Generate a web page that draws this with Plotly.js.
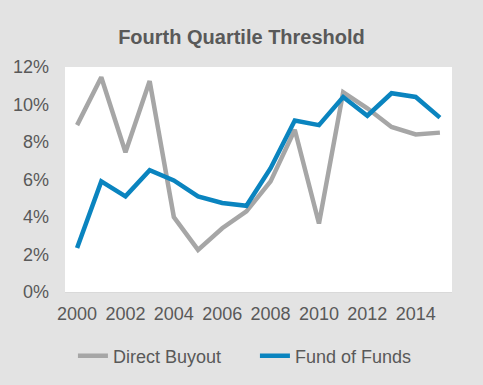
<!DOCTYPE html>
<html>
<head>
<meta charset="utf-8">
<script src="https://cdn.plot.ly/plotly-3.0.1.min.js"></script>
<style>html,body{margin:0;padding:0;background:#E3E3E3;}#chart{width:483px;height:385px;}</style>
</head>
<body>
<div id="chart"></div>
<script>
const years = [2000,2001,2002,2003,2004,2005,2006,2007,2008,2009,2010,2011,2012,2013,2014,2015];
const directBuyout = [8.9,11.45,7.45,11.25,4.0,2.25,3.4,4.3,5.9,8.65,3.65,10.65,9.8,8.8,8.4,8.5];
const fundOfFunds = [2.35,5.9,5.1,6.5,5.95,5.1,4.75,4.6,6.6,9.15,8.9,10.4,9.4,10.6,10.4,9.3];
const xTicks = [2000,2002,2004,2006,2008,2010,2012,2014];
const yTicks = [0,2,4,6,8,10,12];

const font = "'Liberation Sans', Arial, sans-serif";
const data = [
  {x: years, y: directBuyout, name: 'Direct Buyout', type: 'scatter', mode: 'lines',
   line: {color: '#A6A6A6', width: 4.5}},
  {x: years, y: fundOfFunds, name: 'Fund of Funds', type: 'scatter', mode: 'lines',
   line: {color: '#0A84BF', width: 4.5}}
];
const layout = {
  width: 483, height: 385,
  paper_bgcolor: '#E3E3E3', plot_bgcolor: '#FFFFFF',
  margin: {l: 65, r: 31, t: 67, b: 93, autoexpand: false},
  font: {family: font, color: '#595959', size: 18},
  title: {text: '<b>Fourth Quartile Threshold</b>', x: 0.5, xanchor: 'center', y: 0.905, yanchor: 'middle',
          font: {family: font, size: 20, color: '#595959'}},
  xaxis: {range: [1999.5, 2015.5], tickvals: xTicks, ticktext: xTicks.map(String),
          showgrid: false, zeroline: false, showline: true, linecolor: '#D9D9D9', linewidth: 1,
          ticks: '', ticklabelstandoff: 5,
          tickfont: {size: 18, color: '#595959'}},
  yaxis: {range: [0, 12], tickvals: yTicks, ticktext: yTicks.map(v => v + '%'),
          showgrid: false, zeroline: false, showline: false, ticks: '', ticklabelstandoff: 15,
          tickfont: {size: 18, color: '#595959'}},
  showlegend: true,
  legend: {orientation: 'h', xref: 'container', yref: 'container', x: 0.151, xanchor: 'left',
           y: 0.075, yanchor: 'middle',
           font: {size: 18, color: '#595959'}, bgcolor: 'rgba(0,0,0,0)',
           entrywidth: 137, entrywidthmode: 'pixels', traceorder: 'normal'}
};
Plotly.newPlot('chart', data, layout, {displayModeBar: false, staticPlot: true});
</script>
</body>
</html>
